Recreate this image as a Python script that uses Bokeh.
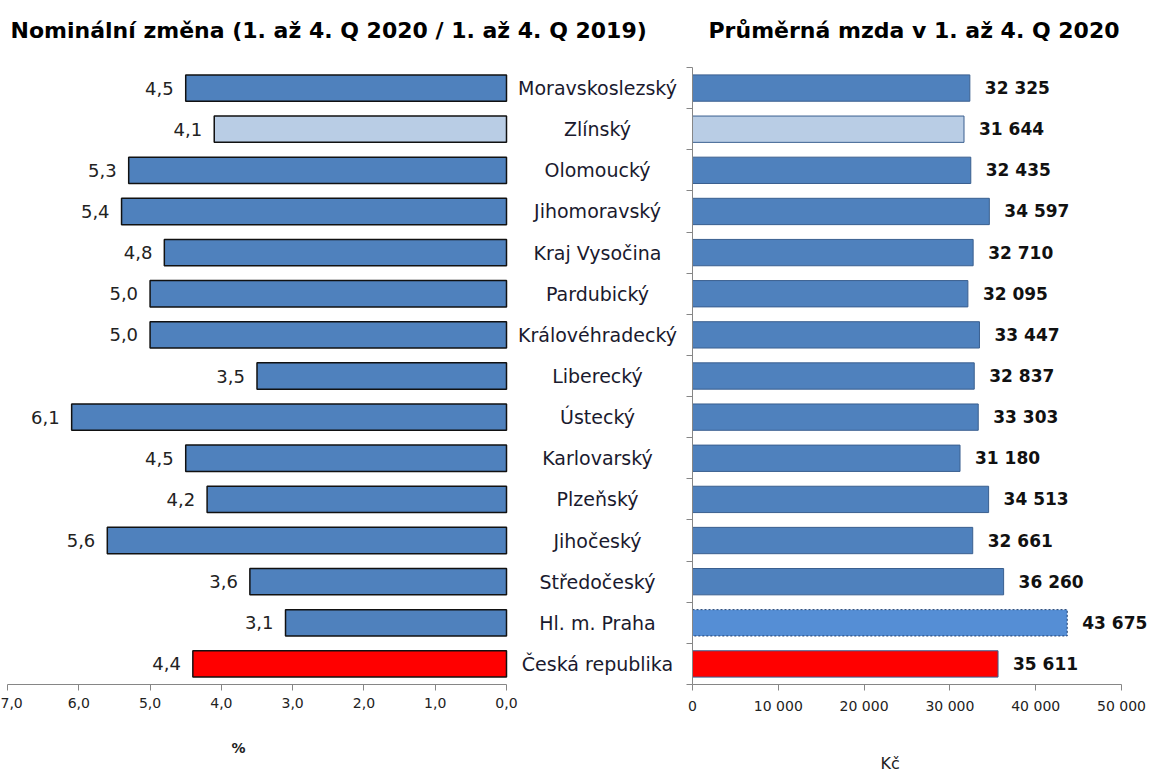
from bokeh.plotting import figure
from bokeh.layouts import row
from bokeh.models import (ColumnDataSource, Range1d, LinearAxis, FixedTicker,
                          CustomJSTickFormatter, Title, CDSView, IndexFilter)
from bokeh.embed import file_html
from bokeh.resources import INLINE
from bokeh.core.properties import value

# ---------------- data ----------------
regions = ["Moravskoslezský", "Zlínský", "Olomoucký", "Jihomoravský",
           "Kraj Vysočina", "Pardubický", "Královéhradecký", "Liberecký",
           "Ústecký", "Karlovarský", "Plzeňský", "Jihočeský", "Středočeský",
           "Hl. m. Praha", "Česká republika"]
change_pct = [4.5, 4.1, 5.3, 5.4, 4.8, 5.0, 5.0, 3.5, 6.1, 4.5, 4.2, 5.6,
              3.6, 3.1, 4.4]
avg_wage = [32325, 31644, 32435, 34597, 32710, 32095, 33447, 32837, 33303,
            31180, 34513, 32661, 36260, 43675, 35611]
left_ticks = [0, 1, 2, 3, 4, 5, 6, 7]
right_ticks = [0, 10000, 20000, 30000, 40000, 50000]
title_left = "Nominální změna (1. až 4. Q 2020 / 1. až 4. Q 2019)"
title_right = "Průměrná mzda v 1. až 4. Q 2020"
unit_left = "%"
unit_right = "Kč"

# ---------------- styles ----------------
BLUE = "#4F81BD"
LIGHT = "#B9CDE5"
RED = "#FF0000"
PRAHA = "#558ED5"
AX = "#868686"
FONT = "DejaVu Sans"
TFONT = "DejaVu Sans"

n = len(regions)
ys = [n - 1 - i for i in range(n)]
lcol = [RED if r == "Česká republika" else LIGHT if r == "Zlínský" else BLUE for r in regions]
rcol = [RED if r == "Česká republika" else LIGHT if r == "Zlínský" else
        PRAHA if r == "Hl. m. Praha" else BLUE for r in regions]
src = ColumnDataSource(dict(
    y=ys, region=regions, pct=change_pct, wage=avg_wage,
    pct_label=[f"{v:.1f}".replace(".", ",") for v in change_pct],
    wage_label=[f"{v:,}".replace(",", " ") for v in avg_wage],
    lcol=lcol, rcol=rcol))

W, H = 1149, 774
TOP = 67
BOT = 88
LW = 686
s_left = (506 - 7) / 7.0          # px per percentage point
x0_left = 7.0 + 7 / s_left        # value at left canvas edge
x1_left = x0_left - LW / s_left   # value at right frame edge


def style_axis(ax):
    ax.axis_line_color = AX
    ax.major_tick_line_color = AX
    ax.major_tick_out = 6
    ax.major_tick_in = 0
    ax.minor_tick_line_color = None
    ax.major_label_text_font = FONT
    ax.major_label_text_font_size = "14px"
    ax.major_label_text_color = "#222222"
    ax.major_label_standoff = 7


def spacer(px):
    # blank panel used only to push a title away from the frame
    return Title(text=" ", text_font_size="1px", standoff=px)


def make_title(text, offset):
    return Title(text=text, align="left", offset=offset, text_font=TFONT,
                 text_font_size="22px", text_font_style="bold",
                 text_color="#000000", standoff=4)


# ---------------- left panel ----------------
pl = figure(width=LW, height=H,
            x_range=Range1d(x0_left, x1_left),
            y_range=Range1d(-0.5, n - 0.5),
            x_axis_type=None, y_axis_type=None,
            output_backend="svg", toolbar_location=None,
            min_border_left=0, min_border_right=0,
            min_border_top=TOP, min_border_bottom=BOT)
pl.outline_line_color = None

axl = LinearAxis(ticker=FixedTicker(ticks=left_ticks), bounds=(0, 7),
                 formatter=CustomJSTickFormatter(code="return tick.toFixed(1).replace('.', ',');"))
style_axis(axl)
pl.add_layout(axl, "below")
pl.add_layout(spacer(22), "below")
pl.add_layout(Title(text=unit_left, align="left", offset=231,
                    text_font=FONT, text_font_size="14px",
                    text_font_style="bold", text_color="#222222",
                    standoff=4), "below")

pl.add_layout(spacer(20), "above")
pl.add_layout(make_title(title_left, 10), "above")

pl.hbar(y="y", left=0, right="pct", height=0.64, fill_color="lcol",
        line_color="#111111", line_width=1.5, source=src)
pl.text(x="pct", y="y", text="pct_label", x_offset=-12, text_align="right",
        text_baseline="middle", text_font=value(FONT), text_font_size="18px",
        text_color="#222222", source=src)
pl.text(x=0, y="y", text="region", x_offset=91, text_align="center",
        text_baseline="middle", text_font=value(FONT), text_font_size="19px",
        text_color="#1a1a2e", source=src)

# ---------------- right panel ----------------
RW = W - LW
s_right = (1121 - 692) / 50000.0
x1_right = (RW - 6) / s_right
pr = figure(width=RW, height=H,
            x_range=Range1d(0, x1_right),
            y_range=Range1d(-0.5, n - 0.5),
            x_axis_type=None, y_axis_type=None,
            output_backend="svg", toolbar_location=None,
            min_border_left=0, min_border_right=0,
            min_border_top=TOP, min_border_bottom=BOT)
pr.outline_line_color = None

axr = LinearAxis(ticker=FixedTicker(ticks=right_ticks), bounds=(0, 50000),
                 formatter=CustomJSTickFormatter(
                     code="return tick.toFixed(0).replace(/\\B(?=(\\d{3})+(?!\\d))/g, ' ');"))
style_axis(axr)
pr.add_layout(axr, "below")
pr.add_layout(spacer(30), "below")
pr.add_layout(Title(text=unit_right, align="left", offset=188,
                    text_font=FONT, text_font_size="16px",
                    text_font_style="normal", text_color="#222222",
                    standoff=4), "below")

yax = LinearAxis(ticker=FixedTicker(ticks=[k - 0.5 for k in range(n + 1)]),
                 formatter=CustomJSTickFormatter(code="return '';"))
yax.axis_line_color = AX
yax.major_tick_line_color = AX
yax.major_tick_out = 6
yax.major_tick_in = 0
yax.minor_tick_line_color = None
yax.major_label_text_font_size = "0px"
yax.major_label_standoff = 0
pr.add_layout(yax, "left")

pr.add_layout(spacer(20), "above")
pr.add_layout(make_title(title_right, 16), "above")

praha_idx = [i for i, r in enumerate(regions) if r == "Hl. m. Praha"]
other_idx = [i for i, r in enumerate(regions) if r != "Hl. m. Praha"]
pr.hbar(y="y", left=0, right="wage", height=0.64, fill_color="rcol",
        line_color="#3A5F8F", line_width=1, source=src,
        view=CDSView(filter=IndexFilter(other_idx)))
pr.hbar(y="y", left=0, right="wage", height=0.64, fill_color="rcol",
        line_color="#1F3F6F", line_width=1, line_dash="2 2", source=src,
        view=CDSView(filter=IndexFilter(praha_idx)))
pr.text(x="wage", y="y", text="wage_label", x_offset=15, text_align="left",
        text_baseline="middle", text_font=value(FONT), text_font_size="17px",
        text_font_style="bold", text_color="#111111", source=src)

layout = row(pl, pr)
open("out.html", "w").write(file_html(layout, INLINE))
